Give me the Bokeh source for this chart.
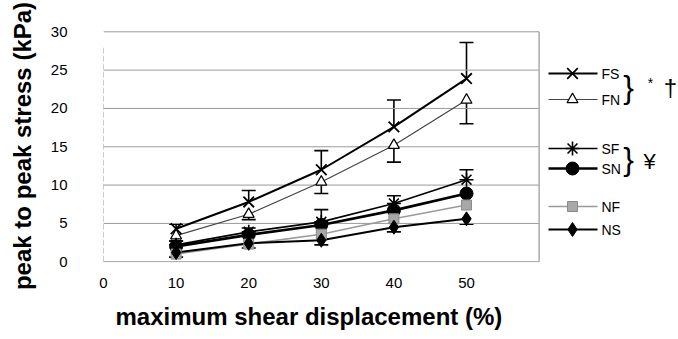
from bokeh.plotting import figure
from bokeh.models import Range1d, FixedTicker, Whisker, ColumnDataSource, TeeHead, Title
from bokeh.embed import file_html
from bokeh.resources import INLINE
from bokeh.core.properties import value

# ---- data ----
displacement = [10, 20, 30, 40, 50]
FS = [4.3, 7.8, 12.0, 17.6, 23.9]
FS_upper = [4.9, 9.3, 14.5, 21.1, 28.6]
FN = [3.4, 6.2, 10.4, 15.2, 21.1]
FN_lower = [2.7, 5.5, 8.9, 13.0, 18.0]
SF = [2.2, 3.9, 5.2, 7.6, 10.7]
SF_upper = [2.7, 4.4, 6.8, 8.6, 12.0]
SN = [2.0, 3.5, 4.8, 6.7, 8.9]
NF = [1.0, 2.3, 3.6, 5.6, 7.4]
NS = [1.2, 2.4, 2.8, 4.5, 5.6]
NS_lower = [0.6, 1.8, 2.2, 3.9, 4.9]

x_ticks = [0, 10, 20, 30, 40, 50]
y_ticks = [0, 5, 10, 15, 20, 25, 30]
x_frame_end = 60

series_names = ["FS", "FN", "SF", "SN", "NF", "NS"]
series_values = [FS, FN, SF, SN, NF, NS]

x_title = "maximum shear displacement (%)"
y_title = "peak to peak stress (kPa)"

FONT = "Liberation Sans"

styles = {
    "FS": dict(marker="x", size=15, fill="white", mline=1.8, color="black", lw=2.0, lcolor="black"),
    "FN": dict(marker="triangle", size=11, fill="white", mline=1.2, color="black", lw=1.2, lcolor="#444444"),
    "SF": dict(marker="asterisk", size=14, fill="black", mline=1.6, color="black", lw=1.6, lcolor="black"),
    "SN": dict(marker="circle", size=13, fill="black", mline=1.0, color="black", lw=2.6, lcolor="black"),
    "NF": dict(marker="square", size=10, fill="#a8a8a8", mline=1.0, color="#8a8a8a", lw=1.5, lcolor="#9a9a9a"),
    "NS": dict(marker="diamond", size=14, fill="black", mline=1.0, color="black", lw=2.0, lcolor="black"),
}

W, H = 678, 339
LEFT, TOP, BOTTOM = 103, 29, 77

p = figure(width=W, height=H,
           x_range=Range1d(0, 79.2), y_range=Range1d(-0.1, 30.3),
           output_backend="svg", toolbar_location=None,
           min_border_left=LEFT, min_border_right=0,
           min_border_top=TOP, min_border_bottom=BOTTOM)
p.outline_line_color = None
p.grid.visible = False
p.background_fill_color = "white"
p.border_fill_color = "white"

# pixel-like ranges for legend layout
p.extra_x_ranges = {"px": Range1d(LEFT, W)}
p.extra_y_ranges = {"py": Range1d(H - BOTTOM, TOP)}

# gridlines and frame lines
p.segment(x0=[0] * len(y_ticks), x1=[x_frame_end] * len(y_ticks), y0=y_ticks, y1=y_ticks,
          line_color="#9a9a9a", line_width=1)
p.segment(x0=[0], x1=[0], y0=[0], y1=[y_ticks[-1] - 2], line_color="#9a9a9a", line_width=1, line_dash="6 2")
p.segment(x0=[x_frame_end], x1=[x_frame_end], y0=[0], y1=[y_ticks[-1]], line_color="#aaaaaa", line_width=1.5)

# axes
p.xaxis.ticker = FixedTicker(ticks=x_ticks)
p.yaxis.ticker = FixedTicker(ticks=y_ticks)
for ax in (p.xaxis, p.yaxis):
    ax.axis_line_color = None
    ax.major_tick_line_color = None
    ax.minor_tick_line_color = None
    ax.major_label_text_font = FONT
    ax.major_label_text_font_size = "15px"
    ax.major_label_text_color = "black"
p.xaxis.major_label_standoff = 9
p.yaxis.major_label_standoff = 30
p.yaxis.axis_label = y_title
p.yaxis.axis_label_text_font = FONT
p.yaxis.axis_label_text_font_size = "24px"
p.yaxis.axis_label_text_font_style = "bold"
p.yaxis.axis_label_text_color = "black"
p.yaxis.axis_label_standoff = 12

p.add_layout(Title(text=x_title, align="left", offset=12, standoff=20,
                   text_font=FONT, text_font_size="24px", text_font_style="bold",
                   text_color="black"), "below")

# series lines
for name, vals in zip(series_names, series_values):
    s = styles[name]
    p.line(displacement, vals, line_color=s["lcolor"], line_width=s["lw"])

# error bars
def whisker(vals, bound, upper=True):
    src = ColumnDataSource(dict(x=displacement, v=vals, b=bound))
    head = TeeHead(size=14, line_width=1.6, line_color="black")
    if upper:
        w = Whisker(source=src, base="x", lower="v", upper="b", upper_head=head, lower_head=None,
                    line_color="black", line_width=1.6)
    else:
        w = Whisker(source=src, base="x", lower="b", upper="v", lower_head=head, upper_head=None,
                    line_color="black", line_width=1.6)
    p.add_layout(w)

whisker(FS, FS_upper, True)
whisker(FN, FN_lower, False)
whisker(SF, SF_upper, True)
whisker(NS, NS_lower, False)

# markers
for name, vals in zip(series_names, series_values):
    s = styles[name]
    p.scatter(displacement, vals, marker=s["marker"], size=s["size"], fill_color=s["fill"],
              line_color=s["color"], line_width=s["mline"])

# legend (manual)
legend_y = [73, 99, 148, 168, 206, 229]
for name, ly in zip(series_names, legend_y):
    s = styles[name]
    p.segment(x0=[548], x1=[597], y0=[ly], y1=[ly], line_color=s["lcolor"], line_width=s["lw"],
              x_range_name="px", y_range_name="py")
    p.scatter([572], [ly], marker=s["marker"], size=s["size"], fill_color=s["fill"],
              line_color=s["color"], line_width=s["mline"], x_range_name="px", y_range_name="py")
    p.text([601], [ly], text=[name], text_font=value(FONT), text_font_size="14px",
           text_baseline="middle", text_align="left", text_color="black",
           x_range_name="px", y_range_name="py")

marks = ["}", "*", "\u2020", "}", "\u00a5"]
mark_x = [628, 650, 670, 628, 649]
mark_y = [86, 82, 87, 158, 161]
mark_size = ["32px", "14px", "24px", "32px", "22px"]
for t, mx, my, ms in zip(marks, mark_x, mark_y, mark_size):
    p.text([mx], [my], text=[t], text_font=value(FONT), text_font_size=ms,
           text_baseline="middle", text_align="center", text_color="black",
           x_range_name="px", y_range_name="py")

open("out.html", "w").write(file_html(p, INLINE))
